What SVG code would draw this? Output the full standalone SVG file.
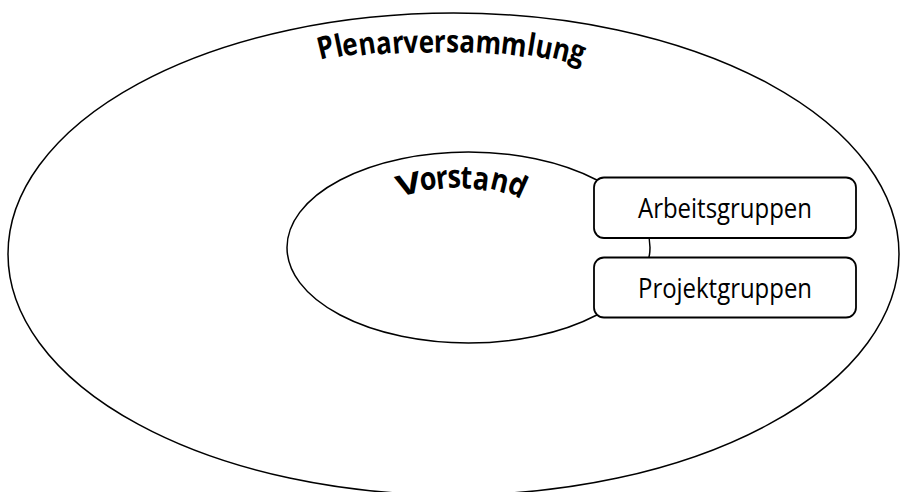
<svg xmlns="http://www.w3.org/2000/svg" width="901" height="492" viewBox="0 0 901 492">
  <style>
    .shape { fill: #ffffff; stroke: #000000; stroke-width: 1.5; }
    .box { fill: #ffffff; stroke: #000000; stroke-width: 1.8; }
    .arc { font-family: "Open Sans", "Liberation Sans", sans-serif; font-weight: 700; fill: #000000; }
    .label { font-family: "Open Sans", "Liberation Sans", sans-serif; font-size: 27px; fill: #000000; text-anchor: middle; }
  </style>
  <g id="plenarversammlung">
    <ellipse class="shape" cx="453.5" cy="254" rx="445.5" ry="241"/>
    <text class="arc" font-size="31" transform="scale(0.84,1)"
      x="381.0 401.2 409.5 428.6 448.8 467.9 481.0 498.8 516.7 531.0 546.4 565.5 595.2 626.2 635.7 656.0 676.2"
      y="60 57.5 57 56 55 54 53.5 53 52.5 52 52 52 53 54.5 55.5 57 58.5"
      rotate="-16 -14 -12 -10 -8 -6 -4 -2 -1 1 3 5 8 11 13 16 19">Plenarversammlung</text>
  </g>
  <g id="vorstand">
    <ellipse class="shape" cx="468.5" cy="247.5" rx="181.5" ry="95.5"/>
    <text class="arc" font-size="29" text-anchor="middle" transform="translate(411,194) rotate(-14) scale(1.35,1)" x="0" y="0">V</text>
    <text class="arc" font-size="32" transform="scale(0.84,1)"
      x="502.4 520.2 533.3 547.6 561.9 582.1 602.4"
      y="192 189.5 188 188 188.5 188 190"
      rotate="-15 -8 -3 3 8 16 28">orstand</text>
  </g>
  <g id="connectors"></g>
  <g id="arbeitsgruppen">
    <rect class="box" x="594" y="177.5" width="262" height="60.5" rx="10" ry="10"/>
    <text class="label" x="725" y="218" textLength="174" lengthAdjust="spacingAndGlyphs">Arbeitsgruppen</text>
  </g>
  <g id="projektgruppen">
    <rect class="box" x="594" y="257.5" width="262" height="60" rx="10" ry="10"/>
    <text class="label" x="725" y="298" textLength="174" lengthAdjust="spacingAndGlyphs">Projektgruppen</text>
  </g>
</svg>
